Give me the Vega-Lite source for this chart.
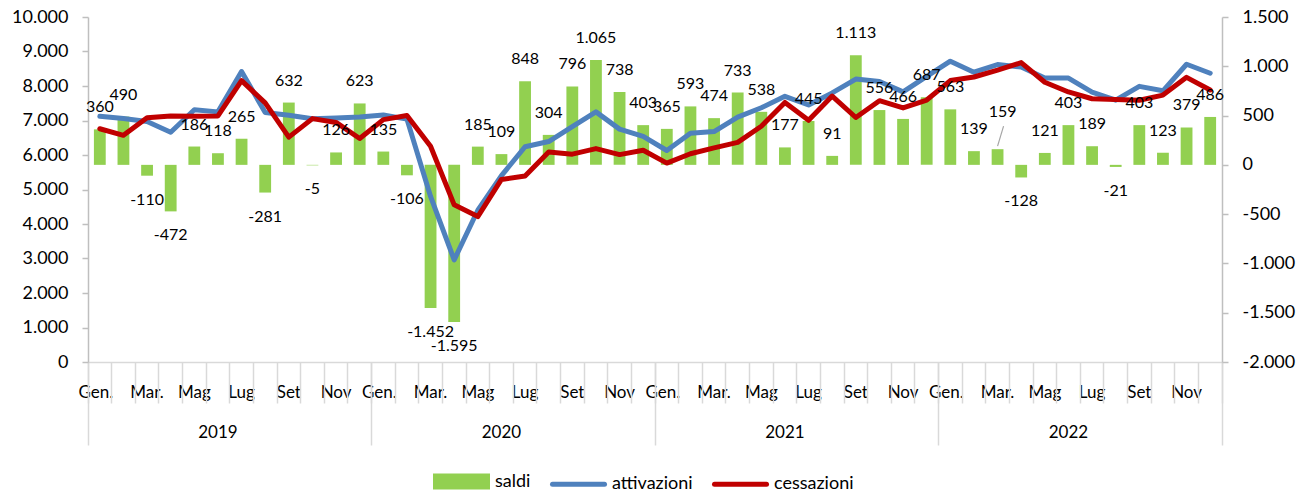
{
  "$schema": "https://vega.github.io/schema/vega-lite/v6.json",
  "width": 1134,
  "height": 345,
  "autosize": {"type": "none"},
  "padding": {"left": 88, "top": 17, "right": 87, "bottom": 130},
  "config": {
    "view": {"stroke": null},
    "font": "Lato",
    "locale": {"number": {"decimal": ",", "thousands": ".", "grouping": [3], "currency": ["€", ""], "minus": "-"}}
  },
  "data": {"values": [
    {"m": "2019-01", "saldi": 360, "attivazioni": 7120, "cessazioni": 6760},
    {"m": "2019-02", "saldi": 490, "attivazioni": 7060, "cessazioni": 6570},
    {"m": "2019-03", "saldi": -110, "attivazioni": 6970, "cessazioni": 7080},
    {"m": "2019-04", "saldi": -472, "attivazioni": 6660, "cessazioni": 7132},
    {"m": "2019-05", "saldi": 186, "attivazioni": 7310, "cessazioni": 7124},
    {"m": "2019-06", "saldi": 118, "attivazioni": 7250, "cessazioni": 7132},
    {"m": "2019-07", "saldi": 265, "attivazioni": 8420, "cessazioni": 8155},
    {"m": "2019-08", "saldi": -281, "attivazioni": 7230, "cessazioni": 7511},
    {"m": "2019-09", "saldi": 632, "attivazioni": 7150, "cessazioni": 6518},
    {"m": "2019-10", "saldi": -5, "attivazioni": 7050, "cessazioni": 7055},
    {"m": "2019-11", "saldi": 126, "attivazioni": 7070, "cessazioni": 6944},
    {"m": "2019-12", "saldi": 623, "attivazioni": 7100, "cessazioni": 6477},
    {"m": "2020-01", "saldi": 135, "attivazioni": 7160, "cessazioni": 7025},
    {"m": "2020-02", "saldi": -106, "attivazioni": 7040, "cessazioni": 7146},
    {"m": "2020-03", "saldi": -1452, "attivazioni": 4800, "cessazioni": 6252},
    {"m": "2020-04", "saldi": -1595, "attivazioni": 2960, "cessazioni": 4555},
    {"m": "2020-05", "saldi": 185, "attivazioni": 4400, "cessazioni": 4215},
    {"m": "2020-06", "saldi": 109, "attivazioni": 5400, "cessazioni": 5291},
    {"m": "2020-07", "saldi": 848, "attivazioni": 6240, "cessazioni": 5392},
    {"m": "2020-08", "saldi": 304, "attivazioni": 6390, "cessazioni": 6086},
    {"m": "2020-09", "saldi": 796, "attivazioni": 6820, "cessazioni": 6024},
    {"m": "2020-10", "saldi": 1065, "attivazioni": 7250, "cessazioni": 6185},
    {"m": "2020-11", "saldi": 738, "attivazioni": 6750, "cessazioni": 6012},
    {"m": "2020-12", "saldi": 403, "attivazioni": 6540, "cessazioni": 6137},
    {"m": "2021-01", "saldi": 365, "attivazioni": 6130, "cessazioni": 5765},
    {"m": "2021-02", "saldi": 593, "attivazioni": 6630, "cessazioni": 6037},
    {"m": "2021-03", "saldi": 474, "attivazioni": 6680, "cessazioni": 6206},
    {"m": "2021-04", "saldi": 733, "attivazioni": 7100, "cessazioni": 6367},
    {"m": "2021-05", "saldi": 538, "attivazioni": 7370, "cessazioni": 6832},
    {"m": "2021-06", "saldi": 177, "attivazioni": 7700, "cessazioni": 7523},
    {"m": "2021-07", "saldi": 445, "attivazioni": 7450, "cessazioni": 7005},
    {"m": "2021-08", "saldi": 91, "attivazioni": 7800, "cessazioni": 7709},
    {"m": "2021-09", "saldi": 1113, "attivazioni": 8200, "cessazioni": 7087},
    {"m": "2021-10", "saldi": 556, "attivazioni": 8130, "cessazioni": 7574},
    {"m": "2021-11", "saldi": 466, "attivazioni": 7830, "cessazioni": 7364},
    {"m": "2021-12", "saldi": 687, "attivazioni": 8280, "cessazioni": 7593},
    {"m": "2022-01", "saldi": 563, "attivazioni": 8720, "cessazioni": 8157},
    {"m": "2022-02", "saldi": 139, "attivazioni": 8400, "cessazioni": 8261},
    {"m": "2022-03", "saldi": 159, "attivazioni": 8620, "cessazioni": 8461},
    {"m": "2022-04", "saldi": -128, "attivazioni": 8550, "cessazioni": 8678},
    {"m": "2022-05", "saldi": 121, "attivazioni": 8230, "cessazioni": 8109},
    {"m": "2022-06", "saldi": 403, "attivazioni": 8230, "cessazioni": 7827},
    {"m": "2022-07", "saldi": 189, "attivazioni": 7820, "cessazioni": 7631},
    {"m": "2022-08", "saldi": -21, "attivazioni": 7590, "cessazioni": 7611},
    {"m": "2022-09", "saldi": 403, "attivazioni": 7990, "cessazioni": 7587},
    {"m": "2022-10", "saldi": 123, "attivazioni": 7860, "cessazioni": 7737},
    {"m": "2022-11", "saldi": 379, "attivazioni": 8630, "cessazioni": 8251},
    {"m": "2022-12", "saldi": 486, "attivazioni": 8370, "cessazioni": 7884}
  ]},
  "layer": [
    {
      "mark": {"type": "bar", "width": {"band": 0.5}},
      "encoding": {
        "x": {
          "field": "m", "type": "ordinal",
          "scale": {"paddingInner": 0, "paddingOuter": 0},
          "axis": {
            "orient": "bottom",
            "title": null, "ticks": false, "tickSize": 0, "domain": true,
            "domainColor": "#d9d9d9", "domainWidth": 1.5,
            "labelAngle": 0, "labelBaseline": "alphabetic", "labelPadding": 35,
            "labelFontSize": 17, "labelColor": "#000",
            "labelOffset": {"condition": {"test": "slice(datum.value, 5) == '01'", "value": -4}, "value": 0},
            "labelExpr": "['Gen.','','Mar.','','Mag','','Lug','','Set','','Nov',''][toNumber(slice(datum.value,5))-1]"
          }
        },
        "y": {
          "field": "saldi", "type": "quantitative",
          "scale": {"domain": [-2000, 1500], "nice": false, "zero": false},
          "axis": {
            "orient": "right", "title": null, "grid": false,
            "values": [-2000, -1500, -1000, -500, 0, 500, 1000, 1500],
            "format": ",.0f", "tickSize": 6, "tickColor": "#bfbfbf", "tickWidth": 1.5,
            "domainColor": "#bfbfbf", "domainWidth": 1.5,
            "labelPadding": 14, "labelFontSize": 18, "labelColor": "#000"
          }
        },
        "color": {
          "datum": "saldi", "type": "nominal",
          "scale": {"domain": ["saldi", "attivazioni", "cessazioni"], "range": ["#92d050", "#4f81bd", "#c00000"]},
          "legend": {
            "title": null, "orient": "none", "legendX": 345, "legendY": 436, "direction": "horizontal",
            "labelFontSize": 18, "labelColor": "#000", "labelOffset": 5,
            "symbolSize": 2704, "columnPadding": 11,
            "encode": {
              "symbols": {
                "update": {
                  "shape": {"signal": "datum.value == 'saldi' ? 'M-1,-0.21H1V0.21H-1Z' : 'M-1,0H1'"},
                  "fill": {"signal": "datum.value == 'saldi' ? '#92d050' : 'transparent'"},
                  "stroke": {"signal": "datum.value == 'attivazioni' ? '#4f81bd' : (datum.value == 'cessazioni' ? '#c00000' : 'transparent')"},
                  "strokeWidth": {"value": 5},
                  "strokeCap": {"value": "round"},
                  "opacity": {"value": 1}
                }
              }
            }
          }
        }
      }
    },
    {
      "transform": [{"fold": ["attivazioni", "cessazioni"], "as": ["serie", "valore"]}],
      "mark": {"type": "line", "strokeWidth": 5, "strokeJoin": "round", "strokeCap": "round"},
      "encoding": {
        "x": {
          "field": "m", "type": "ordinal",
          "axis": {
            "orient": "bottom",
            "title": null, "labels": false, "domain": false, "ticks": true,
            "tickSize": 41, "tickColor": "#d9d9d9", "tickWidth": 1.5,
            "bandPosition": 1, "tickExtra": true
          }
        },
        "y": {
          "field": "valore", "type": "quantitative",
          "scale": {"domain": [0, 10000], "nice": false},
          "axis": {
            "orient": "left", "title": null, "grid": false,
            "values": [0, 1000, 2000, 3000, 4000, 5000, 6000, 7000, 8000, 9000, 10000],
            "format": ",.0f", "tickSize": 6, "tickColor": "#bfbfbf", "tickWidth": 1.5,
            "domainColor": "#bfbfbf", "domainWidth": 1.5,
            "labelPadding": 14, "labelFontSize": 18, "labelColor": "#000"
          }
        },
        "color": {"field": "serie", "type": "nominal", "legend": {"title": null}}
      }
    },
    {
      "transform": [{"filter": "datum.saldi >= 0 && datum.m != '2022-03'"}],
      "mark": {"type": "text", "dy": -22, "fontSize": 16, "color": "#000"},
      "encoding": {
        "x": {
          "field": "m", "type": "ordinal",
          "axis": {
            "orient": "bottom",
            "title": null, "labels": false, "domain": false, "ticks": true,
            "tickSize": 83, "tickColor": "#d9d9d9", "tickWidth": 1.5,
            "bandPosition": 1, "tickExtra": true,
            "tickOpacity": {"condition": {"test": "datum.extra || slice(datum.value, 5) == '12'", "value": 1}, "value": 0}
          }
        },
        "y": {
          "field": "saldi", "type": "quantitative",
          "scale": {"domain": [-2000, 1500], "nice": false, "zero": false},
          "axis": null
        },
        "text": {"field": "saldi", "type": "quantitative", "format": ",.0f"}
      }
    },
    {
      "transform": [{"filter": "datum.saldi < 0"}],
      "mark": {"type": "text", "dy": 24, "fontSize": 16, "color": "#000"},
      "encoding": {
        "x": {
          "field": "m", "type": "ordinal",
          "axis": {
            "orient": "bottom",
            "title": null, "ticks": false, "tickSize": 0, "domain": false,
            "bandPosition": 1, "labelAngle": 0, "labelBaseline": "alphabetic",
            "labelPadding": 75, "labelFontSize": 17, "labelColor": "#000",
            "labelExpr": "slice(datum.value, 5) == '06' ? slice(datum.value, 0, 4) : ''"
          }
        },
        "y": {
          "field": "saldi", "type": "quantitative",
          "scale": {"domain": [-2000, 1500], "nice": false, "zero": false},
          "axis": null
        },
        "text": {"field": "saldi", "type": "quantitative", "format": ",.0f"}
      }
    },
    {
      "transform": [{"filter": "datum.m == '2022-03'"}],
      "mark": {"type": "text", "dy": -37, "dx": 5, "fontSize": 16, "color": "#000"},
      "encoding": {
        "x": {"field": "m", "type": "ordinal", "axis": null},
        "y": {
          "field": "saldi", "type": "quantitative",
          "scale": {"domain": [-2000, 1500], "nice": false, "zero": false},
          "axis": null
        },
        "text": {"field": "saldi", "type": "quantitative", "format": ",.0f"}
      }
    },
    {
      "transform": [{"filter": "datum.m == '2022-03'"}],
      "mark": {"type": "rule", "color": "#a6a6a6", "strokeWidth": 1.2, "yOffset": -3, "y2Offset": -23, "x2Offset": 6},
      "encoding": {
        "x": {"field": "m", "type": "ordinal", "axis": null},
        "x2": {"field": "m"},
        "y": {
          "field": "saldi", "type": "quantitative",
          "scale": {"domain": [-2000, 1500], "nice": false, "zero": false},
          "axis": null
        },
        "y2": {"field": "saldi"}
      }
    }
  ],
  "resolve": {"scale": {"y": "independent"}, "axis": {"x": "independent", "y": "independent"}}
}
